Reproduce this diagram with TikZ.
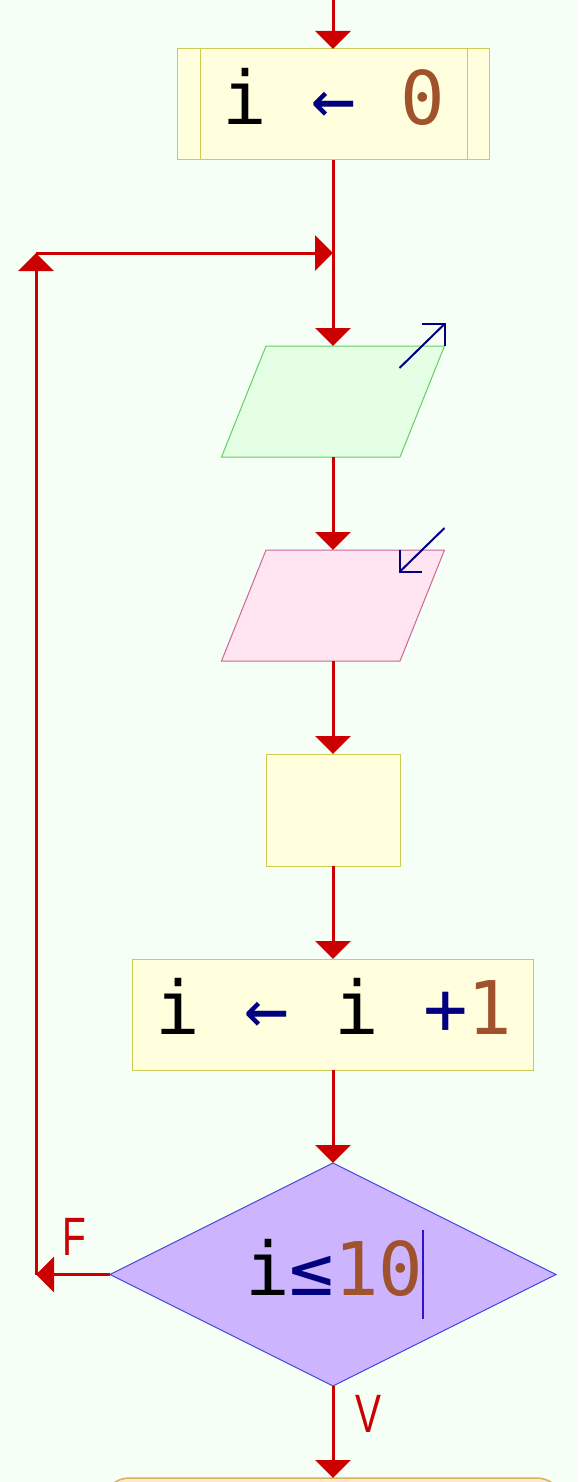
\documentclass[tikz,border=0pt]{standalone}
\usepackage{fontspec}
\usetikzlibrary{arrows.meta,shapes.geometric,calc}
\newfontfamily\codefont{DejaVu Sans Mono}
\newfontfamily\labelfont{Liberation Sans}
\definecolor{bgmint}{RGB}{246,255,246}
\definecolor{flowred}{RGB}{204,0,0}
\definecolor{boxfill}{RGB}{255,255,221}
\definecolor{boxedge}{RGB}{204,204,85}
\definecolor{outfill}{RGB}{228,255,228}
\definecolor{outedge}{RGB}{102,204,102}
\definecolor{infill}{RGB}{255,228,242}
\definecolor{inedge}{RGB}{204,102,153}
\definecolor{condfill}{RGB}{204,180,255}
\definecolor{condedge}{RGB}{68,68,221}
\definecolor{endfill}{RGB}{255,234,200}
\definecolor{endedge}{RGB}{217,176,96}
\definecolor{opnavy}{RGB}{0,0,128}
\definecolor{numsienna}{RGB}{160,82,45}
\definecolor{caretblue}{RGB}{51,17,204}
\begin{document}
\begin{tikzpicture}[x=1pt,y=-1pt,
  flow/.style={draw=flowred, line width=3pt, -{Triangle[length=18pt,width=35pt]}},
  procbox/.style={rectangle, draw=boxedge, fill=boxfill, line width=1pt, inner sep=0pt, outer sep=0pt},
  slot/.style={rectangle, inner sep=0pt, outer sep=0pt, minimum width=223pt, minimum height=111pt},
  code/.style={font=\codefont\fontsize{74}{74}\selectfont, inner sep=0pt, anchor=base},
  branch/.style={font=\labelfont\fontsize{54}{54}\selectfont, text=flowred, inner sep=0pt, anchor=base west},
  ioarrow/.style={draw=opnavy, line width=2pt},
]
\fill[bgmint] (0,0) rectangle (578,1482);
\useasboundingbox (0,0) rectangle (578,1482);

% assignment i <- 0 (sub-process box with side bars)
\node[procbox, minimum width=312pt, minimum height=111pt] (init) at (333,104.5) {};
\draw[boxedge, line width=1pt] ($(init.north west)+(23,0)$) -- ($(init.south west)+(23,0)$);
\draw[boxedge, line width=1pt] ($(init.north east)+(-22,0)$) -- ($(init.south east)+(-22,0)$);
\node[code] (initText) at (334,125) {i {\color{opnavy}←} {\color{numsienna}0}};

% output parallelogram
\node[slot] (outp) at (333,401.5) {};
\draw[fill=outfill, draw=outedge, line width=1pt]
  ($(outp.north west)+(44.5,0)$) -- (outp.north east) -- ($(outp.south east)+(-44.5,0)$) -- (outp.south west) -- cycle;
\coordinate (outTip) at ($(outp.north east)+(0,-22)$);
\draw[ioarrow] ($(outTip)+(-45,44)$) -- (outTip);
\draw[ioarrow] ($(outTip)+(-23,0)$) -- (outTip) -- ($(outTip)+(0,22)$);

% input parallelogram
\node[slot] (inp) at (333,605.5) {};
\draw[fill=infill, draw=inedge, line width=1pt]
  ($(inp.north west)+(44.5,0)$) -- (inp.north east) -- ($(inp.south east)+(-44.5,0)$) -- (inp.south west) -- cycle;
\coordinate (inTail) at ($(inp.north east)+(0,-22)$);
\coordinate (inTip) at ($(inp.north east)+(-45,22)$);
\draw[ioarrow] (inTail) -- (inTip);
\draw[ioarrow] ($(inTip)+(0,-22)$) -- (inTip) -- ($(inTip)+(22,0)$);

% empty process box
\node[procbox, minimum width=134pt, minimum height=112pt] (body) at (333,810) {};

% increment i <- i + 1
\node[procbox, minimum width=401pt, minimum height=111pt] (incr) at (333,1014.5) {};
\node[code] (incrText) at (334,1034) {i {\color{opnavy}←} i {\color{opnavy}+}{\color{numsienna}1}};

% loop condition
\node[diamond, draw=condedge, fill=condfill, line width=1pt, inner sep=0pt, outer sep=0pt,
      minimum width=446pt, minimum height=223pt] (cond) at (333,1274.5) {};
\node[code] (condText) at (334.3,1295) {i{\color{opnavy}≤}{\color{numsienna}10}};
\draw[caretblue, line width=2pt] ($(condText.base east)+(-1,-65)$) -- ($(condText.base east)+(-1,24)$);

% following block, cut by the page edge
\node[rectangle, rounded corners=30pt, draw=endedge, fill=endfill, line width=1.5pt,
      minimum width=466pt, minimum height=100pt, inner sep=0pt, outer sep=0pt] (next) at (333,1528) {};

% connectors
\coordinate (entry) at (333,0);
\coordinate (join) at (333,253);
\coordinate (loopLow) at (36,1274.5);
\coordinate (loopHigh) at (36,253);
\draw[flow] (entry) -- (init.north);
\draw[flow] (init.south) -- (outp.north);
\draw[flow] (outp.south) -- (inp.north);
\draw[flow] (inp.south) -- (body.north);
\draw[flow] (body.south) -- (incr.north);
\draw[flow] (incr.south) -- (cond.north);
\draw[flow] (cond.south) -- (next.north);
\draw[flow] (cond.west) -- (loopLow);
\draw[flow] (loopLow) -- (loopHigh);
\draw[flow] (loopHigh) -- (join);

% branch labels
\node[branch] (falseLbl) at (62,1255) {\scalebox{0.72}[1]{F}};
\node[branch] (trueLbl) at (355,1432) {\scalebox{0.72}[1]{V}};
\end{tikzpicture}
\end{document}
